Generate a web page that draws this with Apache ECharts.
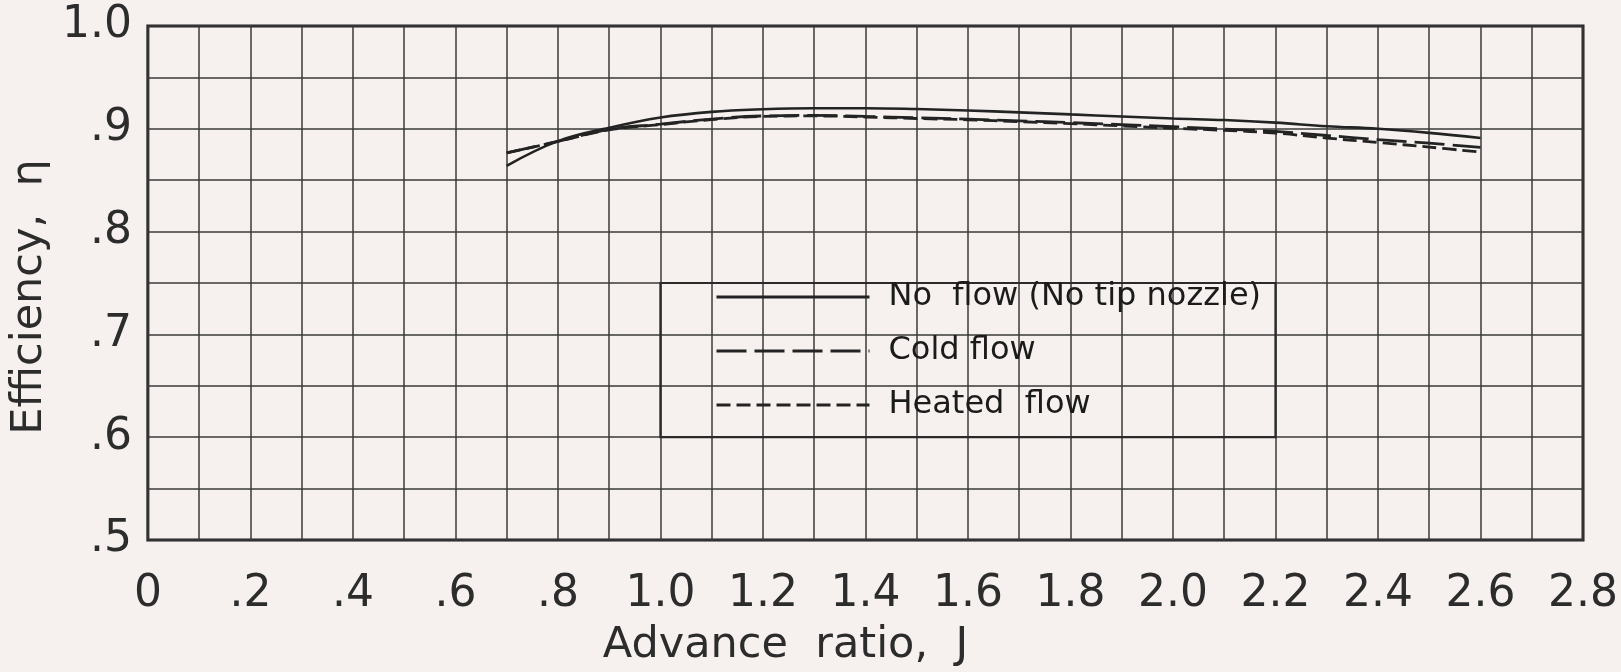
<!DOCTYPE html>
<html>
<head>
<meta charset="utf-8">
<title>Efficiency vs advance ratio</title>
<script src="https://cdn.jsdelivr.net/npm/echarts@6/dist/echarts.min.js"></script>
<style>
  html, body { margin: 0; padding: 0; background: #f6f1ee; }
  #chart { width: 1621px; height: 672px; }
</style>
</head>
<body>
<div id="chart"></div>
<script>
// Advance ratio J at which the curves were faired
const advanceRatio = [0.7, 0.8, 0.9, 1.0, 1.1, 1.2, 1.3, 1.4, 1.5, 1.6, 1.7, 1.8, 1.9, 2.0, 2.1, 2.2, 2.3, 2.4, 2.5, 2.6];

// Propeller efficiency for each test condition
const noFlow     = [0.864, 0.888, 0.901, 0.911, 0.9165, 0.919, 0.920, 0.920, 0.9192, 0.9178, 0.916, 0.914, 0.912, 0.910, 0.9085, 0.906, 0.9025, 0.900, 0.896, 0.891];
const coldFlow   = [0.8765, 0.8877, 0.8995, 0.9045, 0.9095, 0.9125, 0.913, 0.912, 0.9108, 0.9094, 0.9078, 0.906, 0.904, 0.902, 0.8998, 0.8975, 0.8935, 0.8895, 0.886, 0.882];
const heatedFlow = [0.8765, 0.8877, 0.899, 0.904, 0.909, 0.912, 0.9125, 0.9115, 0.910, 0.9088, 0.907, 0.905, 0.9028, 0.9005, 0.8985, 0.8958, 0.891, 0.8867, 0.8822, 0.8773];

const seriesNames = ['No  flow (No tip nozzle)', 'Cold flow', 'Heated  flow'];

// Tick labels as lettered on the sheet
const xTickLabels = ['0', '.2', '.4', '.6', '.8', '1.0', '1.2', '1.4', '1.6', '1.8', '2.0', '2.2', '2.4', '2.6', '2.8'];
const yTickLabels = ['.5', '.6', '.7', '.8', '.9', '1.0'];

// Legend frame corners in data units
const legendFrame = { x0: 1.0, y0: 0.75, x1: 2.2, y1: 0.60 };

const ink = '#2c2c2c';
const gridInk = '#3a3a3a';
const letterFont = '"DejaVu Sans", "Noto Sans", sans-serif';

function pairs(ys) {
  return advanceRatio.map((x, i) => [x, ys[i]]);
}

const chart = echarts.init(document.getElementById('chart'), null, { renderer: 'canvas' });

chart.setOption({
  backgroundColor: '#f6f1ee',
  animation: false,
  grid: {
    left: 145, right: 36, top: 26, bottom: 131,
    show: true, borderColor: '#1f1f1f', borderWidth: 3, backgroundColor: 'transparent'
  },
  legend: {
    orient: 'vertical',
    left: 710, top: 276,
    itemWidth: 153, itemHeight: 14, itemGap: 22,
    data: seriesNames,
    itemStyle: { opacity: 0 },
    lineStyle: { width: 3 },
    textStyle: {
      fontFamily: letterFont, fontSize: 32, color: '#1b1b1b',
      padding: [0, 0, 0, 14]
    },
    selectedMode: false
  },
  xAxis: {
    type: 'value', min: 0, max: 2.8, interval: 0.1,
    axisLine: { show: false }, axisTick: { show: false },
    splitLine: { show: true, lineStyle: { color: gridInk, width: 1.5 } },
    axisLabel: {
      margin: 33, fontFamily: letterFont, fontSize: 44, color: ink,
      formatter: v => {
        const k = Math.round(v * 10);
        return k % 2 === 0 ? xTickLabels[k / 2] : '';
      }
    },
    name: 'Advance  ratio,  J',
    nameLocation: 'middle', nameGap: 84,
    nameTextStyle: { fontFamily: letterFont, fontSize: 43, color: ink, padding: [0, 160, 0, 0] }
  },
  yAxis: {
    type: 'value', min: 0.5, max: 1.0, interval: 0.05,
    axisLine: { show: false }, axisTick: { show: false },
    splitLine: { show: true, lineStyle: { color: gridInk, width: 1.5 } },
    axisLabel: {
      margin: 16, fontFamily: letterFont, fontSize: 44, color: ink, padding: [12, 0, 0, 0],
      formatter: v => {
        const k = Math.round(v * 100);
        return k % 10 === 0 ? yTickLabels[(k - 50) / 10] : '';
      }
    },
    name: 'Efficiency,  η',
    nameLocation: 'middle', nameGap: 86,
    nameTextStyle: { fontFamily: letterFont, fontSize: 43, color: ink, padding: [0, 0, 0, -28] }
  },
  series: [
    {
      name: seriesNames[0], type: 'line', data: pairs(noFlow),
      smooth: 0.4, symbol: 'none', showSymbol: false,
      lineStyle: { color: '#232323', width: 2.6, type: 'solid' },
      itemStyle: { color: '#232323' },
      markArea: {
        silent: true,
        itemStyle: { color: 'rgba(0,0,0,0)', borderColor: '#2a2a2a', borderWidth: 2.2 },
        data: [[
          { xAxis: legendFrame.x0, yAxis: legendFrame.y0 },
          { xAxis: legendFrame.x1, yAxis: legendFrame.y1 }
        ]]
      }
    },
    {
      name: seriesNames[1], type: 'line', data: pairs(coldFlow),
      smooth: 0.4, symbol: 'none', showSymbol: false,
      lineStyle: { color: '#232323', width: 2.8, type: [30, 8] },
      itemStyle: { color: '#232323' }
    },
    {
      name: seriesNames[2], type: 'line', data: pairs(heatedFlow),
      smooth: 0.4, symbol: 'none', showSymbol: false,
      lineStyle: { color: '#232323', width: 2.8, type: [14, 6] },
      itemStyle: { color: '#232323' }
    }
  ]
});
</script>
</body>
</html>
